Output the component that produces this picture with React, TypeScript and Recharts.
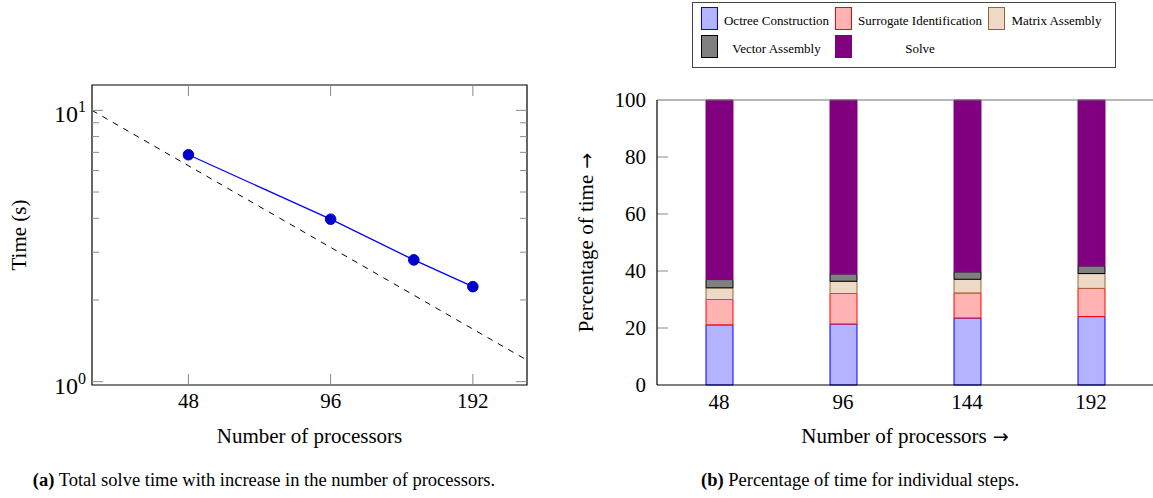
import React from "react";
import { LineChart, Line, BarChart, Bar, XAxis, YAxis, Legend, ReferenceArea, Label } from "recharts";

// (a) total solve time vs processors (log-log)
const procs = [48, 96, 144, 192];
const solveTime = [6.86, 3.97, 2.81, 2.24];
const idealProcs = [30, 250];
const idealTime = [10, 1.2];
const procTicks = [48, 96, 192];
const timeTicks = [1, 2, 3, 4, 5, 6, 7, 8, 9, 10];

// (b) percentage of time per step
const barProcs = ["48", "96", "144", "192"];
const octree = [21.1, 21.4, 23.5, 24.0];
const surrogate = [8.9, 10.7, 8.8, 9.9];
const matrix = [4.1, 4.3, 4.8, 5.2];
const vector = [2.9, 2.6, 2.6, 2.7];
const solve = [63.0, 61.0, 60.3, 58.2];
const pctTicks = [0, 20, 40, 60, 80, 100];
const stepNames = ["Octree Construction", "Surrogate Identification", "Matrix Assembly", "Vector Assembly", "Solve"];
const stepKeys = ["octree", "surrogate", "matrix", "vector", "solve"];

const fills = ["#b3b3ff", "#ffb3b3", "#ecd9c6", "#808080", "#800080"];
const strokes = ["#0000ff", "#ff0000", "#996633", "#000000", "#800080"];

const FONT = "'Liberation Serif', 'Times New Roman', serif";
const TICK = "#8a8a8a";

const timeData = procs.map((p, i) => ({ p, t: solveTime[i] }));
const idealData = idealProcs.map((p, i) => ({ p, t: idealTime[i] }));
const pctData = barProcs.map((p, i) => ({
  p, octree: octree[i], surrogate: surrogate[i], matrix: matrix[i], vector: vector[i], solve: solve[i],
}));

const LW = 435, LH = 300; // left plot box
const RH = 285;

const LogYTick = (props: any) => {
  const { x, y, payload } = props;
  const v = payload.value;
  const major = v === 1 || v === 10;
  const len = major ? 11 : 7;
  return <g>
    <line x1={x} x2={x + len} y1={y} y2={y} stroke={TICK} />
    <line x1={x + LW} x2={x + LW - len} y1={y} y2={y} stroke={TICK} />
    {major && <text x={x - 6} y={y + 12} textAnchor="end" fontSize={24} fontFamily={FONT} fill="#000">
      10<tspan dy={-10} fontSize={16}>{Math.round(Math.log10(v))}</tspan>
    </text>}
  </g>;
};

const LogXTick = (props: any) => {
  const { x, y, payload } = props;
  return <g>
    <line x1={x} x2={x} y1={y} y2={y - 11} stroke={TICK} />
    <line x1={x} x2={x} y1={y - LH} y2={y - LH + 11} stroke={TICK} />
    <text x={x} y={y + 23} textAnchor="middle" fontSize={21} fontFamily={FONT} fill="#000">{payload.value}</text>
  </g>;
};

const PctYTick = (props: any) => {
  const { x, y, payload } = props;
  return <g>
    {payload.value > 0 && payload.value < 100 && <line x1={x} x2={x + 11} y1={y} y2={y} stroke={TICK} />}
    <text x={x - 11} y={y + 7} textAnchor="end" fontSize={21} fontFamily={FONT} fill="#000">{payload.value}</text>
  </g>;
};

const CatXTick = (props: any) => {
  const { x, y, payload } = props;
  return <text x={x} y={y + 24} textAnchor="middle" fontSize={21} fontFamily={FONT} fill="#000">{payload.value}</text>;
};

const Arrow = () => <tspan fontFamily="'DejaVu Sans', sans-serif" fontSize={19}>{" \u2192"}</tspan>;

const xTitle = (text: string, arrow: boolean) => (p: any) => {
  const vb = p.viewBox;
  return <text x={vb.x + vb.width / 2} y={vb.y + 58} textAnchor="middle" fontSize={21} fontFamily={FONT} fill="#000">
    {text}{arrow && <Arrow />}
  </text>;
};
const yTitle = (text: string, cx: number, arrow: boolean) => (p: any) => {
  const vb = p.viewBox;
  const cy = vb.y + vb.height / 2;
  return <text x={cx} y={cy} transform={`rotate(-90 ${cx} ${cy})`} textAnchor="middle" dominantBaseline="central" fontSize={21} fontFamily={FONT} fill="#000">
    {text}{arrow && <Arrow />}
  </text>;
};

function StepLegend() {
  return <div style={{
    width: 424, height: 66, boxSizing: "border-box", border: "1px solid #444", background: "#fff",
    padding: "4px 0 0 8px", display: "grid", gridTemplateColumns: "17px 107px 17px 126px 17px 93px",
    gridTemplateRows: "23px 23px", columnGap: 5, rowGap: 5, alignItems: "center",
    fontSize: 13, fontFamily: FONT, color: "#000",
  }}>
    {stepNames.map((n, i) => [
      <div key={"s" + i} style={{ width: 17, height: 23, boxSizing: "border-box", background: fills[i], border: `1.3px solid ${strokes[i]}` }} />,
      <div key={"t" + i} style={{ textAlign: "center", whiteSpace: "nowrap", paddingTop: 4 }}>{n}</div>,
    ])}
  </div>;
}

export default function App() {
  return <div style={{ position: "absolute", left: 0, top: 0, width: 1153, height: 498, background: "#fff", fontFamily: FONT }}>
    <div style={{ position: "absolute", left: 0, top: 0 }}>
      <LineChart width={560} height={460} margin={{ top: 85, right: 33, bottom: 0, left: 0 }}>
        <XAxis dataKey="p" type="number" scale="log" domain={[30, 250]} allowDataOverflow ticks={procTicks}
          interval={0} tickSize={0} tickMargin={0} axisLine={false} tickLine={false} tick={LogXTick} height={75}>
          <Label content={xTitle("Number of processors", false)} />
        </XAxis>
        <YAxis type="number" scale="log" domain={[0.972, 12.4]} allowDataOverflow ticks={timeTicks}
          interval={0} tickSize={0} tickMargin={0} axisLine={false} tickLine={false} tick={LogYTick} width={92}>
          <Label content={yTitle("Time (s)", 19, false)} />
        </YAxis>
        <ReferenceArea x1={30} x2={250} y1={0.972} y2={12.4} fill="none" stroke="#000" strokeWidth={1.2} ifOverflow="visible" />
        <Line data={idealData} dataKey="t" stroke="#000" strokeWidth={1} strokeDasharray="6 6" dot={false} isAnimationActive={false} />
        <Line data={timeData} dataKey="t" stroke="#0000ff" strokeWidth={1.3}
          dot={{ r: 5.3, fill: "#0000cc", stroke: "#0000cc", strokeWidth: 1 }} isAnimationActive={false} />
      </LineChart>
    </div>
    <div style={{ position: "absolute", left: 560, top: 0 }}>
      <BarChart width={593} height={460} data={pctData} margin={{ top: 100, right: 0, bottom: 0, left: 0 }} barSize={27}>
        <XAxis dataKey="p" interval={0} tickSize={0} tickMargin={0} axisLine={false} tickLine={false} tick={CatXTick} height={75}>
          <Label content={xTitle("Number of processors", true)} />
        </XAxis>
        <YAxis type="number" domain={[0, 100]} ticks={pctTicks} interval={0} tickSize={0} tickMargin={0}
          axisLine={false} tickLine={false} tick={PctYTick} width={97}>
          <Label content={yTitle("Percentage of time", 26, true)} />
        </YAxis>
        <Legend verticalAlign="middle" content={<StepLegend />}
          wrapperStyle={{ position: "absolute", left: 132, top: 2, width: 424, height: 66 }} />
        {stepKeys.map((k, i) => <Bar key={k} dataKey={k} name={stepNames[i]} stackId="s" fill={fills[i]}
          stroke={strokes[i]} strokeWidth={1} isAnimationActive={false} />)}
      </BarChart>
      <svg style={{ position: "absolute", left: 0, top: 0, pointerEvents: "none" }} width={593} height={460}>
        <line x1={97} x2={593} y1={100} y2={100} stroke="#707070" strokeWidth={1.2} />
        <line x1={97} x2={97} y1={100} y2={100 + RH} stroke="#000" strokeWidth={1.2} />
        <line x1={97} x2={593} y1={100 + RH} y2={100 + RH} stroke="#000" strokeWidth={1.2} />
      </svg>
    </div>
    <div style={{ position: "absolute", left: 0, width: 528, top: 470, textAlign: "center", fontSize: 18.5, whiteSpace: "nowrap" }}>
      <b>(a)</b> Total solve time with increase in the number of processors.
    </div>
    <div style={{ position: "absolute", left: 600, width: 520, top: 470, textAlign: "center", fontSize: 18.5, whiteSpace: "nowrap" }}>
      <b>(b)</b> Percentage of time for individual steps.
    </div>
  </div>;
}
